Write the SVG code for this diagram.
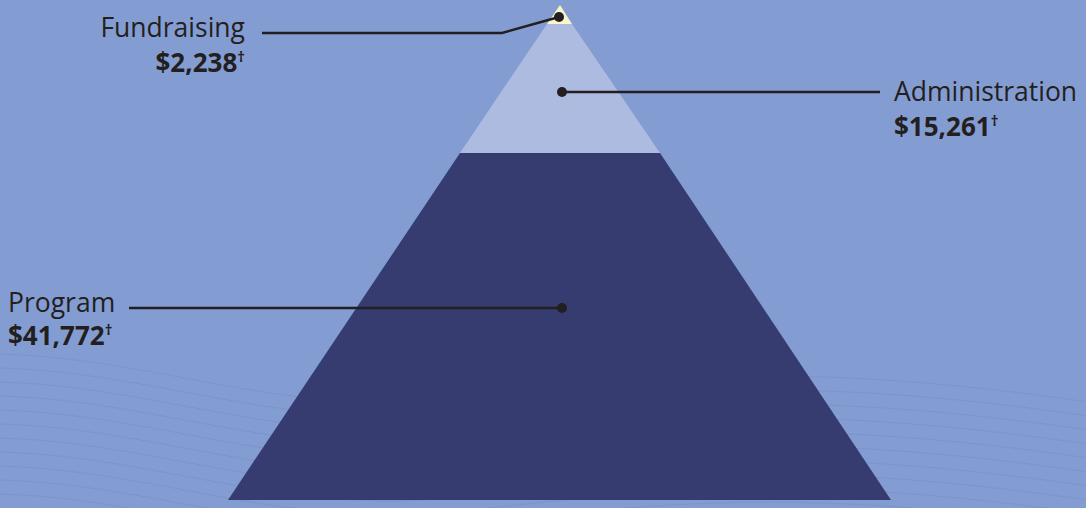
<svg xmlns="http://www.w3.org/2000/svg" xmlns:xlink="http://www.w3.org/1999/xlink" width="1086" height="508" viewBox="0 0 1086 508">
<style>
.lbl{font-family:"Open Sans","Liberation Sans",sans-serif;font-size:26.5px;fill:#231f20}
.val{font-family:"Open Sans","Liberation Sans",sans-serif;font-size:26px;font-weight:bold;fill:#231f20}
.dag{font-size:15px}
.con{fill:none;stroke:#231f20;stroke-width:2.5}
.dot{fill:#231f20}
.wave{fill:none;stroke:#7790c8;stroke-width:1;opacity:0.7}
</style>
<defs>
<path id="w" d="M-100,0 C100,-30 250,60 450,40 S800,-10 1200,60"/>
</defs>
<rect width="1086" height="508" fill="#839dd2"/>
<g id="waves">
<use xlink:href="#w" class="wave" y="360"/>
<use xlink:href="#w" class="wave" y="374"/>
<use xlink:href="#w" class="wave" y="388"/>
<use xlink:href="#w" class="wave" y="402"/>
<use xlink:href="#w" class="wave" y="416"/>
<use xlink:href="#w" class="wave" y="430"/>
<use xlink:href="#w" class="wave" y="444"/>
<use xlink:href="#w" class="wave" y="458"/>
<use xlink:href="#w" class="wave" y="472"/>
<use xlink:href="#w" class="wave" y="486"/>
<use xlink:href="#w" class="wave" y="500"/>
</g>
<g id="program">
<polygon points="460,153 660,153 891,500 228,500" fill="#363c70"/>
</g>
<g id="administration">
<polygon points="547,24 572,24 660,153 460,153" fill="#adbbe0"/>
</g>
<g id="fundraising">
<polygon points="560,5 572,24 547,24" fill="#f8f4cc"/>
</g>
<g id="connectors">
<polyline class="con" points="559,17 502,33 262,33"/>
<circle class="dot" cx="559" cy="17" r="5"/>
<line class="con" x1="562" y1="92" x2="880" y2="92"/>
<circle class="dot" cx="562" cy="92" r="5"/>
<line class="con" x1="129" y1="308" x2="562" y2="308"/>
<circle class="dot" cx="562" cy="308" r="5"/>
</g>
<g id="labels">
<text class="lbl" x="245" y="37" text-anchor="end">Fundraising</text>
<text class="val" x="245" y="72" text-anchor="end">$2,238<tspan class="dag" dy="-10">†</tspan></text>
<text class="lbl" x="894" y="101">Administration</text>
<text class="val" x="894" y="136">$15,261<tspan class="dag" dy="-10">†</tspan></text>
<text class="lbl" x="8" y="312">Program</text>
<text class="val" x="8" y="345">$41,772<tspan class="dag" dy="-10">†</tspan></text>
</g>
</svg>
